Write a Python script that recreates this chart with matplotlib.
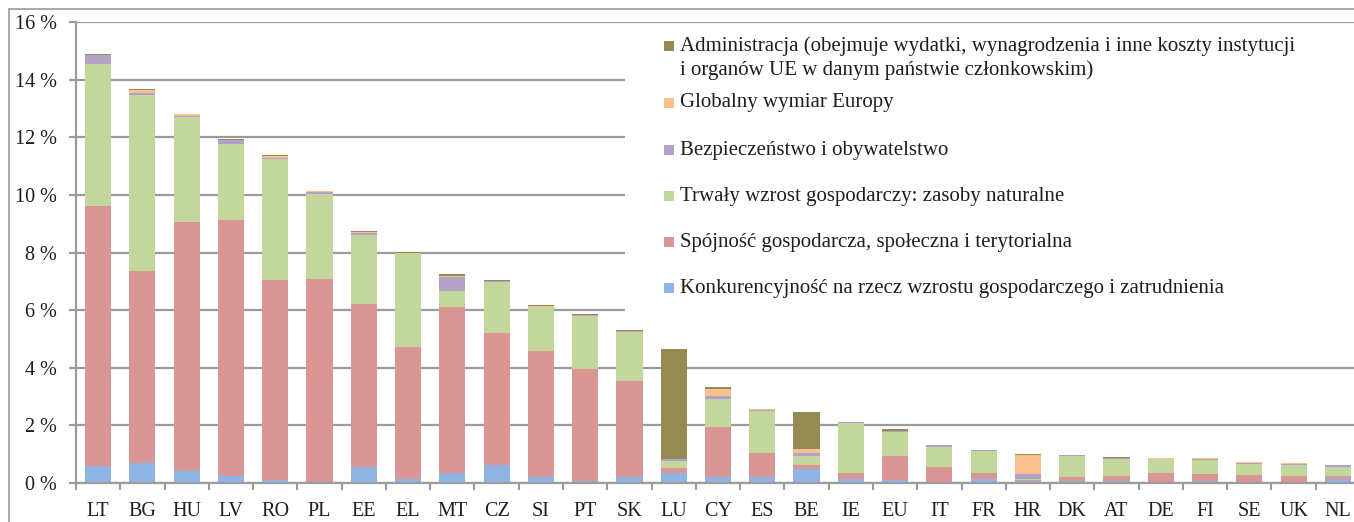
import matplotlib
matplotlib.use("Agg")
import matplotlib.pyplot as plt
from matplotlib.patches import Rectangle
from matplotlib.lines import Line2D
import numpy as np

categories = ['LT', 'BG', 'HU', 'LV', 'RO', 'PL', 'EE', 'EL', 'MT', 'CZ', 'SI', 'PT', 'SK', 'LU',
              'CY', 'ES', 'BE', 'IE', 'EU', 'IT', 'FR', 'HR', 'DK', 'AT', 'DE', 'FI', 'SE', 'UK', 'NL']

konkurencyjnosc = [0.60, 0.68, 0.42, 0.25, 0.10, 0.05, 0.54, 0.14, 0.34, 0.63, 0.20, 0.08, 0.21, 0.34,
                   0.20, 0.20, 0.48, 0.13, 0.12, 0.05, 0.13, 0.08, 0.07, 0.06, 0.03, 0.07, 0.05, 0.05, 0.14]
spojnosc = [9.02, 6.67, 8.64, 8.87, 6.95, 7.02, 5.68, 4.57, 5.78, 4.59, 4.39, 3.89, 3.34, 0.19,
            1.74, 0.83, 0.15, 0.22, 0.82, 0.50, 0.22, 0.03, 0.14, 0.19, 0.31, 0.24, 0.23, 0.20, 0.10]
trwaly_wzrost = [4.93, 6.11, 3.66, 2.66, 4.18, 2.96, 2.38, 3.26, 0.56, 1.77, 1.51, 1.82, 1.70, 0.23,
                 0.98, 1.48, 0.31, 1.72, 0.84, 0.71, 0.75, 0.03, 0.74, 0.59, 0.48, 0.50, 0.39, 0.39, 0.32]
bezpieczenstwo = [0.29, 0.07, 0.03, 0.11, 0.05, 0.06, 0.09, 0.01, 0.48, 0.02, 0.02, 0.04, 0.02, 0.07,
                  0.10, 0.02, 0.11, 0.03, 0.02, 0.05, 0.03, 0.16, 0.01, 0.03, 0.02, 0.01, 0.04, 0.03, 0.07]
globalny = [0.02, 0.12, 0.04, 0.01, 0.06, 0.03, 0.02, 0.02, 0.02, 0.01, 0.04, 0.01, 0.02, 0.00,
            0.24, 0.03, 0.12, 0.01, 0.02, 0.01, 0.01, 0.66, 0.00, 0.01, 0.02, 0.04, 0.01, 0.01, 0.00]
administracja = [0.02, 0.03, 0.01, 0.03, 0.03, 0.03, 0.04, 0.01, 0.06, 0.02, 0.01, 0.02, 0.02, 3.82,
                 0.06, 0.01, 1.28, 0.01, 0.05, 0.00, 0.01, 0.05, 0.02, 0.02, 0.00, 0.00, 0.00, 0.00, 0.00]

series_labels = [
    'Konkurencyjność na rzecz wzrostu gospodarczego i zatrudnienia',
    'Spójność gospodarcza, społeczna i terytorialna',
    'Trwały wzrost gospodarczy: zasoby naturalne',
    'Bezpieczeństwo i obywatelstwo',
    'Globalny wymiar Europy',
    'Administracja (obejmuje wydatki, wynagrodzenia i inne koszty instytucji\ni organów UE w danym państwie członkowskim)',
]
series_values = [konkurencyjnosc, spojnosc, trwaly_wzrost, bezpieczenstwo, globalny, administracja]
colors = ['#8EB4E3', '#D99694', '#C3D69B', '#B3A2C7', '#FAC090', '#948A54']

y_ticks = [0, 2, 4, 6, 8, 10, 12, 14, 16]
y_tick_labels = [f'{v} %' for v in y_ticks]

W, H = 1354, 522
plt.rcParams['font.family'] = ['Liberation Serif', 'DejaVu Serif']
fig = plt.figure(figsize=(W / 100, H / 100), dpi=100)

def fx(px):
    return px / W

def fy(py):
    return 1 - py / H

ax_left, ax_right, ax_top, ax_bottom = 76, 1360, 22, 483
ax = fig.add_axes([fx(ax_left), fy(ax_bottom), fx(ax_right - ax_left), (ax_bottom - ax_top) / H])

grid_color = '#9B9B9B'
text_color = '#1E1E1E'
x = np.arange(len(categories))
bottom = np.zeros(len(categories))
for vals, col in zip(series_values, colors):
    vals = np.array(vals)
    ax.bar(x, vals, width=0.59, bottom=bottom, color=col, edgecolor='none', linewidth=0, zorder=3)
    bottom += vals

ax.set_xlim(-0.5, len(categories) - 0.5)
ax.set_ylim(0, 16)
ax.set_yticks(y_ticks)
ax.set_yticklabels(y_tick_labels)
ax.set_xticks(x)
ax.set_xticklabels(categories)
ax.set_xticks(np.arange(-0.5, len(categories), 1.0), minor=True)
ax.tick_params(axis='x', which='major', length=0, pad=14, labelsize=14.5, labelcolor=text_color)
ax.tick_params(axis='x', which='minor', length=5, width=1.5, color=grid_color, direction='out')
ax.tick_params(axis='y', which='major', length=5, width=1.5, color=grid_color, pad=9,
               labelsize=14.5, labelcolor=text_color)
ax.yaxis.grid(True, color=grid_color, linewidth=1.6, zorder=0)
ax.set_axisbelow(True)
for s in ['top', 'right']:
    ax.spines[s].set_visible(False)
for s in ['left', 'bottom']:
    ax.spines[s].set_color(grid_color)
    ax.spines[s].set_linewidth(1.6)
ax.spines['bottom'].set_zorder(4)

# Legend box (white) covering gridlines
fig.patches.append(Rectangle((fx(625), fy(313)), fx(ax_right - 625), (313 - 24) / H,
                             transform=fig.transFigure, facecolor='white', edgecolor='none', zorder=5))
legend_rows = [288, 242, 196, 150, 103, 58.5]
marker_y = [288, 242, 196, 150, 103, 46]
for lab, col, ty, my in zip(series_labels, colors, legend_rows, marker_y):
    fig.patches.append(Rectangle((fx(664), fy(my + 5)), fx(10), 10 / H, transform=fig.transFigure,
                                 facecolor=col, edgecolor='none', zorder=6))
    fig.text(fx(680), fy(ty), lab, ha='left', va='center', fontsize=15, color=text_color,
             linespacing=1.3, zorder=7)

# Outer frame lines
fig.add_artist(Line2D([fx(9), fx(9)], [fy(9), 0], transform=fig.transFigure, color='#A8A8A8', linewidth=1.4))
fig.add_artist(Line2D([fx(9), 1], [fy(9), fy(9)], transform=fig.transFigure, color='#A8A8A8', linewidth=1.4))

fig.savefig('out.png', dpi=100)
